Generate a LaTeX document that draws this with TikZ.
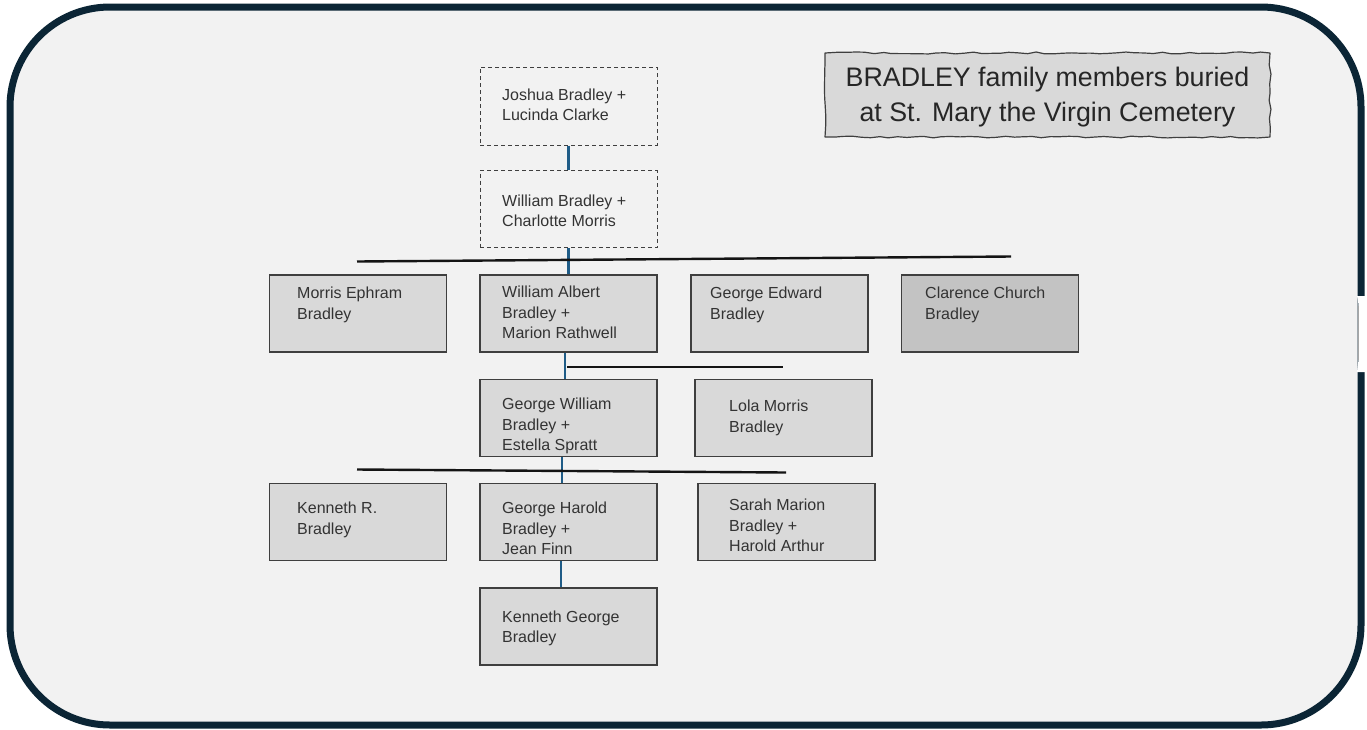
\documentclass[tikz,border=0pt]{standalone}
\usepackage{fontspec}
\setmainfont{Liberation Sans}
\usetikzlibrary{decorations.pathmorphing}
\definecolor{bgc}{HTML}{F2F2F2}
\definecolor{framec}{HTML}{0B2535}
\definecolor{boxc}{HTML}{D9D9D9}
\definecolor{boxdark}{HTML}{C3C3C3}
\definecolor{edgec}{HTML}{3F3F3F}
\definecolor{linkc}{HTML}{1F5C87}
\definecolor{barc}{HTML}{141414}
\definecolor{txtc}{HTML}{333333}
\begin{document}
\begin{tikzpicture}[x=1pt,y=-1pt,
  person/.style={draw=edgec, line width=1.1pt, fill=boxc, minimum width=177pt, minimum height=77pt, inner sep=0pt},
  ghost/.style={person, fill=bgc, line width=1pt, dash pattern=on 4pt off 3pt},
  txt/.style={anchor=north west, inner sep=0pt, align=left, text=txtc, font=\fontsize{16}{20.5}\selectfont, execute at begin node=\strut},
  ttl/.style={anchor=north, inner sep=0pt, align=center, text=black!85, font=\fontsize{26.8}{35}\selectfont, execute at begin node=\strut},
  link/.style={draw=linkc, line width=2.2pt},
  bar/.style={draw=barc, line width=2.4pt},
  frame/.style={draw=framec, line width=7pt, rounded corners=100pt}
]
\useasboundingbox (0,0) rectangle (1367,729);
\fill[white] (0,0) rectangle (1367,729);
\fill[bgc, rounded corners=100pt] (10,7) rectangle (1361,725);
\draw[frame] (10,7) rectangle (1361,725);
% small gap in the right edge of the frame
\fill[white] (1357,296) .. controls (1358,300) .. (1358.5,306) -- (1358.5,360) .. controls (1358,366) .. (1357,372) -- (1368,372) -- (1368,296) -- cycle;
\draw[gray!70, line width=0.6pt] (1358.5,306) -- (1358.5,360);

% title box
\pgfmathsetseed{11}
\draw[draw=edgec, line width=1.2pt, fill=boxc, line join=round, decorate, decoration={random steps, segment length=9pt, amplitude=1pt}] (825,53) rectangle (1270,137);
\node[ttl] (title) at (1047.5,67) {BRADLEY family members buried\\at St. Mary the Virgin Cemetery};

% boxes
\node[ghost, minimum height=78pt] (jb) at (568.5,106) {};
\node[ghost] (wb) at (568.5,209) {};
\node[person] (me) at (358,313.5) {};
\node[person] (wa) at (568.5,313.5) {};
\node[person] (ge) at (779.5,313.5) {};
\node[person, fill=boxdark] (cc) at (990,313.5) {};
\node[person] (gw) at (568.5,418) {};
\node[person] (lm) at (783.5,418) {};
\node[person] (kr) at (358,522) {};
\node[person] (gh) at (568.5,522) {};
\node[person] (sm) at (786.5,522) {};
\node[person] (kg) at (568.5,626.5) {};

% texts
\node[txt] (jbt) at (502,88.5) {Joshua Bradley +\\Lucinda Clarke};
\node[txt] (wbt) at (502,194.5) {William Bradley +\\Charlotte Morris};
\node[txt] (met) at (297,287) {Morris Ephram\\Bradley};
\node[txt] (wat) at (502,286) {William Albert\\Bradley +\\Marion Rathwell};
\node[txt] (get) at (710,287) {George Edward\\Bradley};
\node[txt] (cct) at (925,287) {Clarence Church\\Bradley};
\node[txt] (gwt) at (502,398) {George William\\Bradley +\\Estella Spratt};
\node[txt] (lmt) at (729,400) {Lola Morris\\Bradley};
\node[txt] (krt) at (297,502) {Kenneth R.\\Bradley};
\node[txt] (ght) at (502,502) {George Harold\\Bradley +\\Jean Finn};
\node[txt] (smt) at (729,499) {Sarah Marion\\Bradley +\\Harold Arthur};
\node[txt] (kgt) at (502,610.5) {Kenneth George\\Bradley};

% descent links
\draw[link] (jb.south) -- (wb.north);
\draw[link] (wb.south) -- (wa.north);
\draw[link] ([xshift=-3.5pt]wa.south) -- ([xshift=-3.5pt]gw.north);
\draw[link] ([xshift=-6.5pt]gw.south) -- ([xshift=-6.5pt]gh.north);
\draw[link] ([xshift=-7.5pt]gh.south) -- ([xshift=-7.5pt]kg.north);

% sibling bars
\coordinate (b1l) at (357,261.5);
\coordinate (b1r) at (1011,256.5);
\coordinate (b2l) at (567,367);
\coordinate (b2r) at (783,367);
\coordinate (b3l) at (357,469.5);
\coordinate (b3r) at (786,472.5);
\draw[bar] (b1l) -- (b1r);
\draw[bar] (b2l) -- (b2r);
\draw[bar] (b3l) -- (b3r);
\end{tikzpicture}
\end{document}
